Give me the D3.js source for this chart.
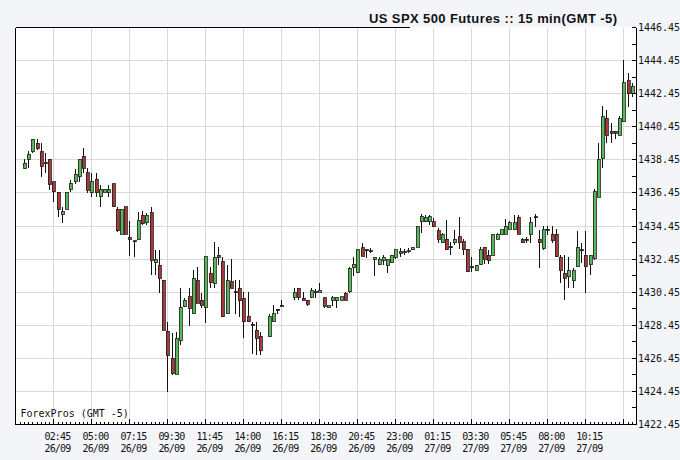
<!DOCTYPE html>
<html><head><meta charset="utf-8">
<script src="https://cdn.jsdelivr.net/npm/d3@7/dist/d3.min.js"></script>
<style>
html,body{margin:0;padding:0;background:#f4f5f9;}
svg{display:block;}
</style></head>
<body>
<svg id="chart" width="680" height="460"></svg>
<script>
const title = "US SPX 500 Futures :: 15 min(GMT -5)";
const sourceLabel = "ForexPros (GMT -5)";
const timeLabels = ["02:45","05:00","07:15","09:30","11:45","14:00","16:15","18:30","20:45","23:00","01:15","03:30","05:45","08:00","10:15"];
const dateLabels = ["26/09","26/09","26/09","26/09","26/09","26/09","26/09","26/09","26/09","26/09","27/09","27/09","27/09","27/09","27/09"];
const yTicks = [1422.45,1424.45,1426.45,1428.45,1430.45,1432.45,1434.45,1436.45,1438.45,1440.45,1442.45,1444.45,1446.45];

const open = [1437.94,1438.48,1438.98,1439.45,1438.94,1438.27,1438.48,1437.13,1436.48,1435.15,
1435.46,1436.67,1437.13,1437.47,1438.68,1437.67,1436.46,1437.27,1436.22,1436.50,
1436.50,1436.99,1435.47,1433.94,1435.61,1433.76,1433.56,1433.64,1435.11,1434.64,
1435.25,1432.23,1432.09,1431.18,1428.09,1426.44,1425.49,1427.55,1429.61,1430.17,
1429.16,1431.18,1429.97,1429.53,1431.58,1430.98,1432.69,1432.29,1429.16,1431.08,
1430.47,1430.68,1430.07,1429.00,1428.50,1428.15,1427.79,null,1427.75,1428.65,
1429.41,1429.67,null,null,1430.13,1430.68,1430.07,1429.97,1430.13,1430.47,
1430.43,1430.11,1429.50,1429.97,1429.97,1429.97,1430.37,1430.47,1431.92,1431.62,
1433.13,1433.00,1432.95,1432.43,1432.13,1432.39,1432.09,1432.23,1432.55,1432.90,
1432.85,1432.90,1433.00,1433.16,1434.70,1434.70,1434.70,1434.70,1434.16,1433.43,
1433.64,1433.19,1433.43,1433.80,1433.50,1433.04,1431.98,1431.78,1432.15,1433.16,
1432.69,1432.69,1433.64,1433.96,1433.96,1434.25,1434.25,1434.97,1433.64,1433.64,
1433.96,1435.00,1433.64,1433.10,1434.25,1433.96,1433.96,1432.55,1431.58,1431.38,
1431.14,1431.98,1433.00,1432.69,1432.15,1432.49,1436.18,1438.54,1440.96,1440.19,
1440.19,1439.95,1440.74,1443.22,1442.46];

const high = [1438.48,1438.98,1439.71,1439.69,1439.45,1438.86,1438.50,1437.13,1436.48,1435.61,
1436.48,1437.23,1437.88,1438.50,1439.15,1437.94,1437.67,1437.63,1436.93,1436.67,
1436.93,1436.99,1435.61,1435.47,1435.61,1434.75,1433.56,1435.32,1435.37,1435.25,
1435.61,1433.00,1433.00,1431.18,1428.66,1427.97,1428.05,1430.68,1430.09,1430.68,
1431.78,1431.98,1430.37,1432.63,1431.98,1433.50,1433.19,1432.55,1432.09,1432.43,
1431.18,1431.18,1430.47,1430.47,1428.65,1428.65,1428.05,null,1429.16,1429.67,
1429.41,1429.97,null,null,1430.68,1430.68,1430.45,1429.97,1430.68,1430.62,
1430.98,1430.17,1429.67,1430.21,1430.13,1430.17,1430.47,1431.98,1432.59,1433.04,
1433.43,1433.04,1433.10,1432.55,1432.55,1432.69,1432.43,1432.69,1433.00,1433.10,
1433.05,1433.10,1433.19,1434.45,1435.17,1435.11,1435.11,1434.93,1434.31,1434.00,
1434.81,1433.50,1434.21,1434.97,1433.64,1433.04,1432.59,1432.09,1433.19,1433.16,
1433.00,1433.96,1434.00,1434.21,1434.86,1434.77,1435.11,1435.11,1433.70,1433.80,
1434.97,1435.17,1434.21,1434.45,1434.45,1434.45,1434.28,1432.69,1432.69,1432.55,
1431.89,1434.16,1433.40,1434.16,1432.69,1436.67,1439.45,1441.70,1441.46,1440.66,
1440.19,1441.10,1444.48,1443.67,1443.10];

const low = [1437.89,1437.94,1438.86,1439.04,1437.43,1437.65,1436.62,1435.92,1435.01,1434.64,
1435.46,1436.52,1436.99,1437.13,1437.67,1436.46,1436.22,1436.22,1435.61,1436.50,
1436.22,1435.61,1434.10,1433.94,1433.94,1432.63,1432.59,1433.60,1434.52,1434.54,
1431.48,1431.48,1430.41,1428.15,1424.42,1425.43,1425.49,1427.25,1429.55,1428.39,
1429.16,1429.77,1429.47,1428.56,1430.68,1430.68,1432.09,1428.96,1429.16,1430.68,
1429.16,1428.96,1427.65,1428.65,1426.74,1426.64,1426.64,null,1427.75,1428.65,
1429.16,1429.53,null,null,1429.97,1429.97,1429.97,1429.61,1430.07,1430.07,
1430.43,1429.47,1429.47,1429.61,1429.47,1429.97,1429.97,1430.39,1431.42,1431.62,
1432.63,1432.49,1432.79,1431.42,1432.09,1432.09,1431.62,1432.23,1432.45,1432.60,
1432.70,1432.80,1433.00,1433.16,1434.00,1434.70,1434.51,1434.40,1433.40,1433.40,
1433.00,1432.69,1433.28,1433.04,1432.69,1431.68,1431.68,1431.78,1432.09,1432.15,
1432.15,1432.69,1433.64,1433.90,1433.96,1434.25,1434.21,1433.96,1433.43,1433.43,
1433.43,1434.40,1431.89,1433.00,1433.90,1433.43,1432.59,1430.98,1429.97,1430.68,
1430.68,1431.98,1432.20,1430.41,1431.48,1432.39,1436.18,1437.94,1439.45,1439.45,
1439.68,1439.95,1440.74,1441.65,1442.27];

const close = [1438.24,1438.80,1439.69,1439.15,1438.07,1438.20,1436.97,1436.52,1435.46,1435.31,
1436.48,1437.03,1437.57,1438.48,1437.94,1436.62,1437.13,1436.46,1436.67,1436.67,
1436.67,1435.61,1434.16,1435.47,1433.94,1433.64,1433.56,1434.81,1434.58,1435.11,
1432.39,1432.43,1431.28,1428.15,1426.64,1425.53,1427.65,1429.53,1429.97,1429.47,
1431.28,1429.77,1429.67,1432.59,1431.01,1432.55,1432.55,1428.96,1431.18,1430.68,
1430.47,1429.93,1428.65,1428.65,1428.50,1427.65,1426.90,null,1429.00,1429.16,
1429.41,1429.67,null,null,1430.41,1430.13,1429.97,1429.73,1430.53,1430.47,
1430.58,1429.61,1429.67,1430.11,1430.13,1430.17,1429.97,1431.89,1432.13,1433.00,
1432.63,1433.00,1432.95,1432.55,1432.43,1432.55,1432.43,1432.69,1433.00,1432.80,
1432.90,1432.95,1433.16,1434.45,1435.00,1434.97,1435.00,1434.40,1433.64,1433.96,
1433.00,1433.19,1433.64,1433.43,1433.00,1431.68,1431.98,1432.09,1433.04,1432.43,
1432.39,1433.96,1433.96,1434.21,1434.45,1434.65,1434.65,1433.96,1433.43,1433.64,
1434.65,1435.00,1433.43,1434.21,1434.25,1433.55,1432.59,1431.78,1431.28,1431.78,
1431.74,1433.16,1433.00,1431.98,1432.69,1436.52,1438.48,1441.06,1439.95,1440.05,
1440.05,1440.96,1443.10,1442.46,1442.91];

// first labelled slot and slots between labels (15-minute bars)
const firstLabelSlot = 7, slotsPerLabel = 9;

const svg = d3.select("#chart");
const L = 15.5, R = 636, T = 27.5, B = 424.5;

const x = d3.scaleLinear().domain([-2, 145]).range([L, R]);
const y = d3.scaleLinear().domain([1422.45, 1446.45]).range([B, T]);

// plot background
svg.append("rect").attr("x", L).attr("y", T).attr("width", R - L).attr("height", B - T).attr("fill", "#ffffff");

const grid = svg.append("g").attr("shape-rendering", "crispEdges").attr("stroke", "#d9d9d9").attr("stroke-width", 1);
yTicks.slice(1, -1).forEach(v => {
  grid.append("line").attr("x1", L).attr("x2", R).attr("y1", y(v)).attr("y2", y(v));
});
const gridSlots = d3.range(0, 16).map(k => firstLabelSlot + k * slotsPerLabel);
gridSlots.forEach(s => {
  grid.append("line").attr("x1", x(s)).attr("x2", x(s)).attr("y1", T).attr("y2", B);
});

// candles
const idx = d3.range(open.length).filter(i => open[i] !== null);
const cg = svg.append("g").attr("shape-rendering", "crispEdges");
cg.selectAll("line.wick").data(idx).join("line").attr("class", "wick")
  .attr("x1", i => Math.round(x(i)) + 0.5).attr("x2", i => Math.round(x(i)) + 0.5)
  .attr("y1", i => y(high[i])).attr("y2", i => y(low[i]))
  .attr("stroke", "#111").attr("stroke-width", 1);
cg.selectAll("rect.body").data(idx).join("rect").attr("class", "body")
  .attr("x", i => Math.round(x(i)) - 1)
  .attr("width", 3)
  .attr("y", i => y(Math.max(open[i], close[i])))
  .attr("height", i => Math.max(1, Math.abs(y(open[i]) - y(close[i]))))
  .attr("fill", i => Math.abs(close[i] - open[i]) < 0.02 ? "#222" : (close[i] > open[i] ? "#55b955" : "#a83a3a"))
  .attr("stroke", "#1e1e1e").attr("stroke-width", 0.8);

// axes frame
const ax = svg.append("g").attr("shape-rendering", "crispEdges").attr("stroke", "#000").attr("stroke-width", 1);
ax.append("line").attr("x1", L).attr("x2", L).attr("y1", T).attr("y2", B);
ax.append("line").attr("x1", L).attr("x2", 410).attr("y1", T).attr("y2", T);
ax.append("line").attr("x1", L).attr("x2", R).attr("y1", B).attr("y2", B);
ax.append("line").attr("x1", R).attr("x2", R).attr("y1", T).attr("y2", B);

// bottom ticks
d3.range(-1, 145).forEach(s => {
  ax.append("line").attr("x1", Math.round(x(s)) + 0.5).attr("x2", Math.round(x(s)) + 0.5)
    .attr("y1", B).attr("y2", B - 3);
});
gridSlots.forEach(s => {
  ax.append("line").attr("x1", x(s)).attr("x2", x(s)).attr("y1", B).attr("y2", B - 6);
});

// right ticks
d3.range(1422.45, 1446.5, 1).forEach((v, k) => {
  ax.append("line").attr("x1", R - 4).attr("x2", R).attr("y1", y(v)).attr("y2", y(v));
});

const mono = "'DejaVu Sans Mono', 'Liberation Mono', monospace";
svg.append("g").selectAll("text").data(yTicks).join("text")
  .attr("x", R + 2).attr("y", v => y(v) + 3.5)
  .attr("font-family", mono).attr("font-size", 10).attr("fill", "#111")
  .text(v => v.toFixed(2));

const lab = svg.append("g").attr("font-family", mono).attr("font-size", 10).attr("fill", "#111")
  .attr("text-anchor", "middle").attr("letter-spacing", "-0.8");
timeLabels.forEach((t, k) => {
  const cx = x(gridSlots[k]) + 4;
  lab.append("text").attr("x", cx).attr("y", 439.5).text(t);
  lab.append("text").attr("x", cx).attr("y", 452).text(dateLabels[k]);
});

svg.append("text").attr("x", 20.5).attr("y", 416.5)
  .attr("font-family", mono).attr("font-size", 10).attr("fill", "#111").text(sourceLabel);

svg.append("text").attr("x", 617).attr("y", 23).attr("text-anchor", "end")
  .attr("font-family", "'Liberation Sans', Arial, sans-serif").attr("font-weight", "bold")
  .attr("font-size", 13).attr("fill", "#111")
  .attr("textLength", 248).attr("lengthAdjust", "spacing").text(title);
</script>
</body></html>
